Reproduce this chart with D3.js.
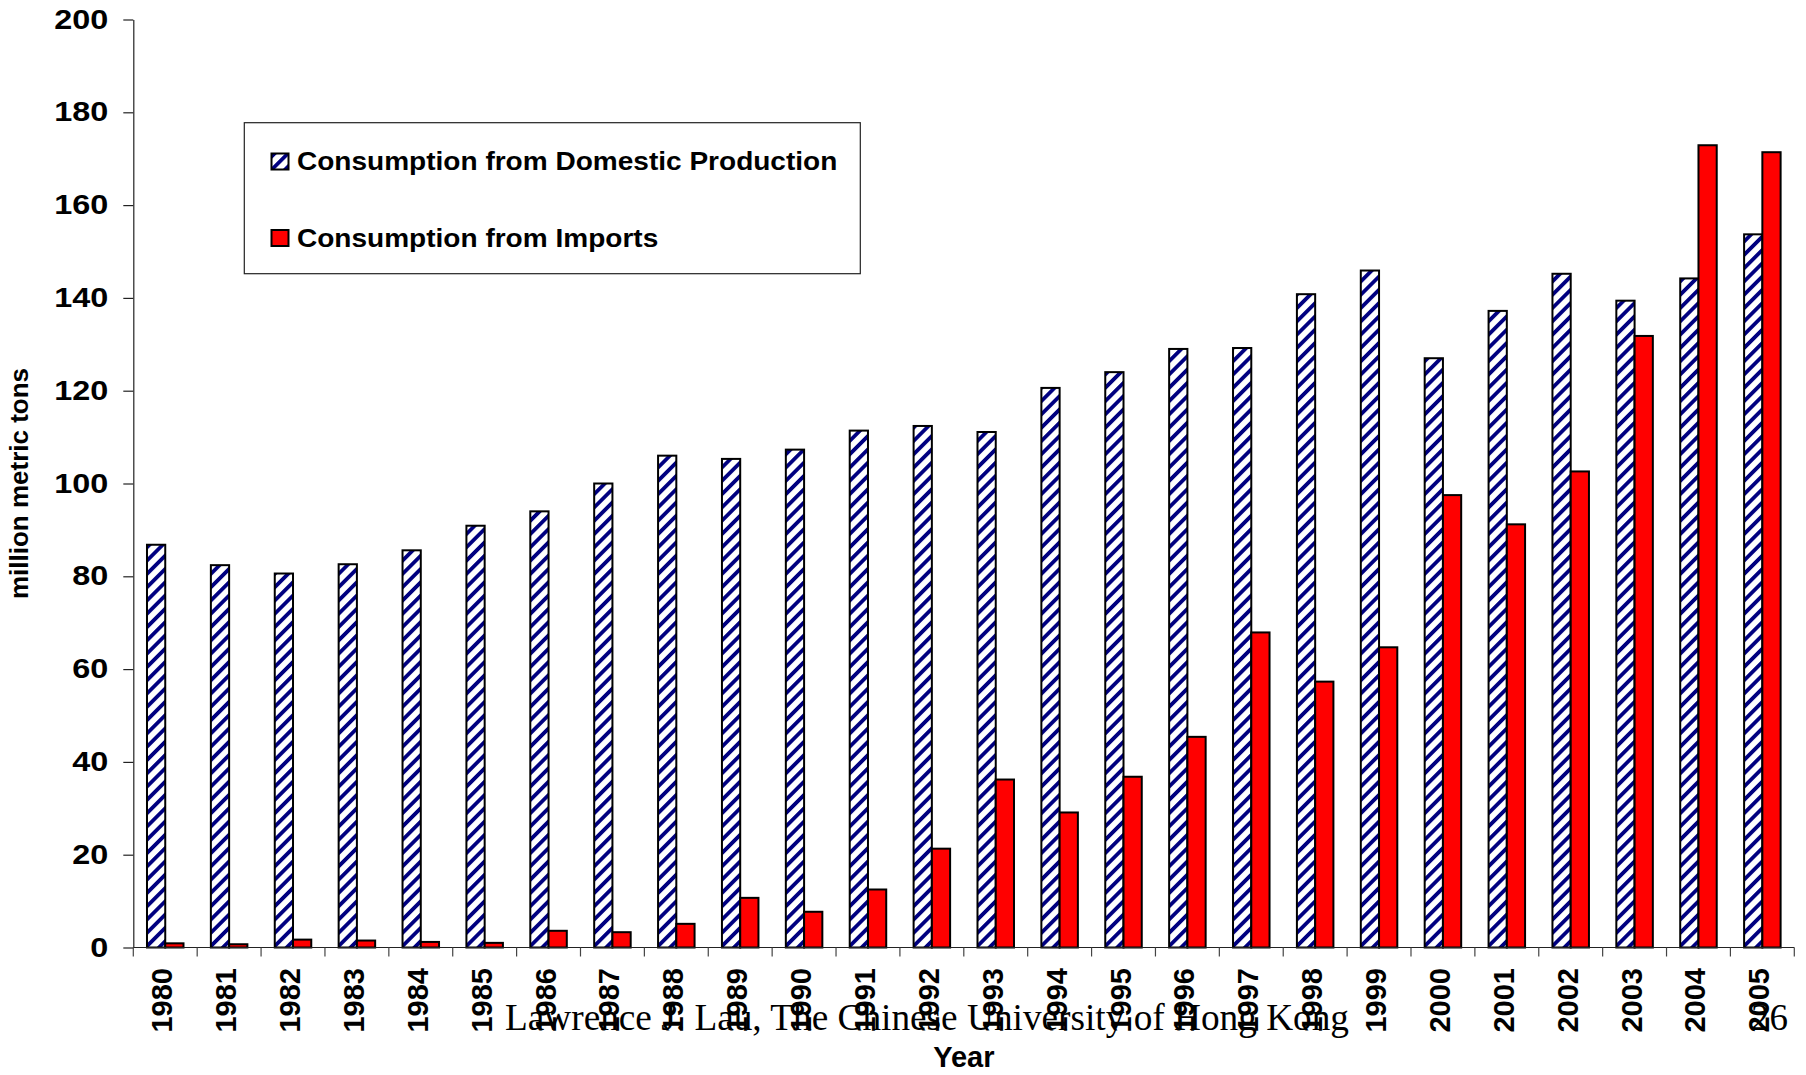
<!DOCTYPE html>
<html>
<head>
<meta charset="utf-8">
<script src="https://cdn.jsdelivr.net/npm/d3@7"></script>
<style>
  html, body { margin: 0; padding: 0; background: #ffffff; }
  svg { display: block; }
</style>
</head>
<body>
<script>
// Years on the category axis
const years = ["1980","1981","1982","1983","1984","1985","1986","1987","1988","1989",
               "1990","1991","1992","1993","1994","1995","1996","1997","1998","1999",
               "2000","2001","2002","2003","2004","2005"];

// Consumption from domestic production, million metric tons
const domestic = [86.8, 82.4, 80.6, 82.6, 85.6, 90.9, 94.0, 100.0, 106.0, 105.3,
                  107.3, 111.4, 112.4, 111.1, 120.6, 124.0, 129.0, 129.2, 140.8, 145.9,
                  127.0, 137.2, 145.2, 139.4, 144.2, 153.7];

// Consumption from imports, million metric tons
const imports = [0.9, 0.7, 1.7, 1.5, 1.2, 1.0, 3.6, 3.3, 5.1, 10.7,
                 7.7, 12.5, 21.3, 36.2, 29.1, 36.8, 45.4, 67.9, 57.3, 64.7,
                 97.5, 91.2, 102.6, 131.8, 172.9, 171.4];

const seriesNames = ["Consumption from Domestic Production", "Consumption from Imports"];
const yTicks = [0, 20, 40, 60, 80, 100, 120, 140, 160, 180, 200];

const W = 1806, H = 1075;
const plot = { left: 133.3, right: 1794.3, top: 19.5, bottom: 947.5 };
const sans = "'Liberation Sans', Arial, Helvetica, sans-serif";
const serif = "'Liberation Serif', 'Times New Roman', Times, serif";

const svg = d3.select("body").append("svg")
  .attr("width", W).attr("height", H)
  .attr("viewBox", `0 0 ${W} ${H}`);

// Diagonal navy hatch for the domestic series
const defs = svg.append("defs");
const hatch = defs.append("pattern")
  .attr("id", "hatch")
  .attr("patternUnits", "userSpaceOnUse")
  .attr("width", 9.4).attr("height", 9.4)
  .attr("patternTransform", "rotate(45)");
hatch.append("rect").attr("width", 9.4).attr("height", 9.4).attr("fill", "#ffffff");
hatch.append("rect").attr("x", 0).attr("width", 3.8).attr("height", 9.4).attr("fill", "#000080");

const table = years.map((yr, i) => ({ year: yr, values: [domestic[i], imports[i]] }));

const x0 = d3.scaleBand().domain(years).range([plot.left, plot.right]).padding(0);
const bw = x0.bandwidth();
const gap = bw * 0.75 / 3.5; // gap width 150%
const x1 = d3.scaleBand().domain([0, 1]).range([gap, bw - gap]).padding(0);
const y = d3.scaleLinear().domain([0, 200]).range([plot.bottom, plot.top]);

const fills = ["url(#hatch)", "#ff0000"];

// Bars
const groups = svg.append("g").selectAll("g")
  .data(table).join("g")
  .attr("transform", d => `translate(${x0(d.year)},0)`);

groups.selectAll("rect")
  .data(d => d.values.map((v, k) => ({ v, k })))
  .join("rect")
  .attr("x", d => x1(d.k))
  .attr("width", x1.bandwidth())
  .attr("y", d => y(d.v))
  .attr("height", d => y(0) - y(d.v))
  .attr("fill", d => fills[d.k])
  .attr("stroke", "#000000")
  .attr("stroke-width", 2);

// Y axis
const yAxis = svg.append("g")
  .attr("transform", `translate(${plot.left},0)`)
  .call(d3.axisLeft(y).tickValues(yTicks).tickSize(10).tickPadding(15).tickSizeOuter(0));
yAxis.select(".domain").attr("stroke", "#222").attr("stroke-width", 1.2);
yAxis.selectAll(".tick line").attr("stroke", "#222").attr("stroke-width", 1.2);
yAxis.selectAll(".tick text")
  .attr("fill", "#000")
  .style("font-family", sans)
  .style("font-size", "27px")
  .style("font-weight", "bold")
  .attr("lengthAdjust", "spacingAndGlyphs")
  .attr("textLength", function () { return this.getComputedTextLength() * 1.2; });

// X axis: ticks at category boundaries
const xAxisG = svg.append("g");
xAxisG.append("line")
  .attr("x1", plot.left).attr("x2", plot.right)
  .attr("y1", y(0)).attr("y2", y(0))
  .attr("stroke", "#222").attr("stroke-width", 1.2);
const boundaries = years.map(yr => x0(yr)).concat([plot.right]);
xAxisG.selectAll("line.tk")
  .data(boundaries).join("line")
  .attr("class", "tk")
  .attr("x1", d => d).attr("x2", d => d)
  .attr("y1", y(0)).attr("y2", y(0) + 9)
  .attr("stroke", "#444").attr("stroke-width", 1.2);

// Year labels, rotated
xAxisG.selectAll("text.yr")
  .data(years).join("text")
  .attr("class", "yr")
  .attr("transform", d => `translate(${x0(d) + bw / 2},968) rotate(-90)`)
  .attr("x", 0).attr("y", 7)
  .attr("text-anchor", "end")
  .style("font-family", sans)
  .style("font-size", "29px")
  .style("font-weight", "bold")
  .attr("fill", "#000")
  .text(d => d);

// Axis titles
svg.append("text")
  .attr("x", (plot.left + plot.right) / 2)
  .attr("y", 1067)
  .attr("text-anchor", "middle")
  .style("font-family", sans)
  .style("font-size", "29px")
  .style("font-weight", "bold")
  .text("Year");

svg.append("text")
  .attr("transform", `translate(28,${(plot.top + plot.bottom) / 2}) rotate(-90)`)
  .attr("text-anchor", "middle")
  .style("font-family", sans)
  .style("font-size", "26px")
  .style("font-weight", "bold")
  .text("million metric tons");

// Legend
const legend = svg.append("g");
legend.append("rect")
  .attr("x", 244.3).attr("y", 122.7)
  .attr("width", 616).attr("height", 151)
  .attr("fill", "#ffffff")
  .attr("stroke", "#222").attr("stroke-width", 1.2);

const legendRows = [170, 246.5];
seriesNames.forEach((name, k) => {
  legend.append("rect")
    .attr("x", 271.5).attr("y", legendRows[k] - 16.5)
    .attr("width", 17).attr("height", 16)
    .attr("fill", fills[k])
    .attr("stroke", "#000").attr("stroke-width", 2);
  legend.append("text")
    .attr("x", 297).attr("y", legendRows[k])
    .style("font-family", sans)
    .style("font-size", "26px")
    .style("font-weight", "bold")
    .attr("lengthAdjust", "spacingAndGlyphs")
    .text(name)
    .attr("textLength", function () { return this.getComputedTextLength() * 1.078; });
});

// Footer line of the slide
svg.append("text")
  .attr("x", 505).attr("y", 1030)
  .style("font-family", serif)
  .style("font-size", "37px")
  .attr("textLength", 844)
  .attr("lengthAdjust", "spacingAndGlyphs")
  .text("Lawrence J. Lau, The Chinese University of Hong Kong");

svg.append("text")
  .attr("x", 1788).attr("y", 1030)
  .attr("text-anchor", "end")
  .style("font-family", serif)
  .style("font-size", "37px")
  .text("26");
</script>
</body>
</html>
